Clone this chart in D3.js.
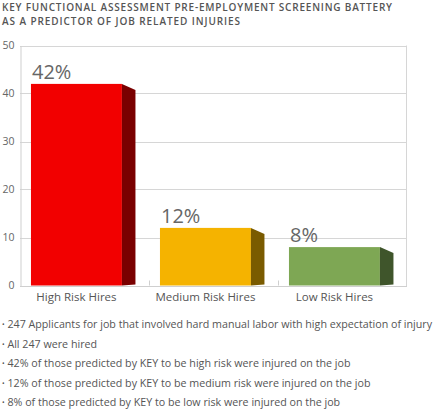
<!DOCTYPE html>
<html><head><meta charset="utf-8">
<script src="https://cdn.jsdelivr.net/npm/d3@7"></script>
<style>
html,body{margin:0;padding:0;background:#fff;}
svg{display:block;}
text{font-family:"Open Sans",sans-serif;}
</style></head>
<body>
<svg id="chart" width="435" height="413"></svg>
<script>
const titleLines = ["KEY FUNCTIONAL ASSESSMENT PRE-EMPLOYMENT SCREENING BATTERY", "AS A PREDICTOR OF JOB RELATED INJURIES"];
const categories = ["High Risk Hires", "Medium Risk Hires", "Low Risk Hires"];
const values = [42, 12, 8];
const valueLabels = ["42%", "12%", "8%"];
const frontColors = ["#f20000", "#f5b300", "#7ea754"];
const sideColors = ["#7a0000", "#7a5b00", "#3f552b"];
const yTicks = [0, 10, 20, 30, 40, 50];
const notes = [
  "247 Applicants for job that involved hard manual labor with high expectation of injury",
  "All 247 were hired",
  "42% of those predicted by KEY to be high risk were injured on the job",
  "12% of those predicted by KEY to be medium risk were injured on the job",
  "8% of those predicted by KEY to be low risk were injured on the job"
];

const svg = d3.select("#chart");
const L = 20, R = 407, T = 45.5, B = 285.5;
const x = d3.scaleBand().domain(categories).range([L, R]).padding(0);
const y = d3.scaleLinear().domain([0, 50]).range([B, T]);

// title
svg.selectAll("text.title").data(titleLines).join("text")
  .attr("class", "title")
  .attr("x", 2).attr("y", (d, i) => 11 + i * 14)
  .attr("font-size", 10).attr("font-weight", 600).attr("fill", "#555")
  .attr("textLength", (d, i) => i === 0 ? 390 : 238)
  .attr("lengthAdjust", "spacing")
  .text(d => d);

// gridlines
svg.append("g").selectAll("line").data(yTicks.filter(d => d > 0)).join("line")
  .attr("x1", L).attr("x2", R)
  .attr("y1", d => Math.round(y(d)) + 0.5).attr("y2", d => Math.round(y(d)) + 0.5)
  .attr("stroke", "#d6d6d6").attr("stroke-width", 1);

// y axis
const yAxis = svg.append("g").attr("transform", `translate(${L + 0.5},0)`)
  .call(d3.axisLeft(y).tickValues(yTicks).tickSize(0).tickPadding(6));
yAxis.select(".domain").attr("stroke", "#cfcfcf");
yAxis.selectAll("text").attr("font-size", 10.5).attr("fill", "#666").attr("font-family", "Open Sans, sans-serif");

// right border
svg.append("line").attr("x1", R - 0.5).attr("x2", R - 0.5).attr("y1", T).attr("y2", B + 1)
  .attr("stroke", "#d6d6d6");

// x baseline
svg.append("line").attr("x1", L).attr("x2", R).attr("y1", Math.round(B) + 0.5).attr("y2", Math.round(B) + 0.5)
  .attr("stroke", "#cfcfcf");

// band separator ticks
svg.append("g").selectAll("line").data(categories.slice(1)).join("line")
  .attr("x1", d => Math.round(x(d)) + 0.5).attr("x2", d => Math.round(x(d)) + 0.5)
  .attr("y1", B - 5).attr("y2", B)
  .attr("stroke", "#cfcfcf");

const bw = x.bandwidth();
const frontOff = bw * 0.085, frontW = bw * 0.705, depth = bw * 0.105, slant = 6;

const bars = svg.append("g").selectAll("g").data(categories).join("g");
// front
bars.append("rect")
  .attr("x", d => x(d) + frontOff)
  .attr("y", (d, i) => y(values[i]))
  .attr("width", frontW)
  .attr("height", (d, i) => y(0) - y(values[i]))
  .attr("fill", (d, i) => frontColors[i]);
// side
bars.append("path")
  .attr("d", (d, i) => {
    const x0 = x(d) + frontOff + frontW, x1 = x0 + depth, yt = y(values[i]), yb = y(0);
    return `M${x0},${yt}L${x1},${yt + slant}L${x1},${yb - 1}L${x0},${yb}Z`;
  })
  .attr("fill", (d, i) => sideColors[i]);

// value labels
bars.append("text")
  .attr("x", d => x(d) + frontOff + 1)
  .attr("y", (d, i) => y(values[i]) - 5)
  .attr("font-size", 20).attr("fill", "#666")
  .text((d, i) => valueLabels[i]);

// category labels
svg.append("g").selectAll("text").data(categories).join("text")
  .attr("x", d => x(d) + frontOff + frontW / 2)
  .attr("y", 301)
  .attr("text-anchor", "middle")
  .attr("font-size", 11.5).attr("fill", "#555")
  .text(d => d);

// notes
const nt = svg.append("g").selectAll("text").data(notes).join("text")
  .attr("x", 2).attr("y", (d, i) => 328 + i * 19.5)
  .attr("font-size", 10.7).attr("fill", "#555");
nt.append("tspan").attr("font-size", 7).attr("dy", -1).text("•");
nt.append("tspan").attr("dy", 1).text(d => " " + d);
</script>
</body></html>
